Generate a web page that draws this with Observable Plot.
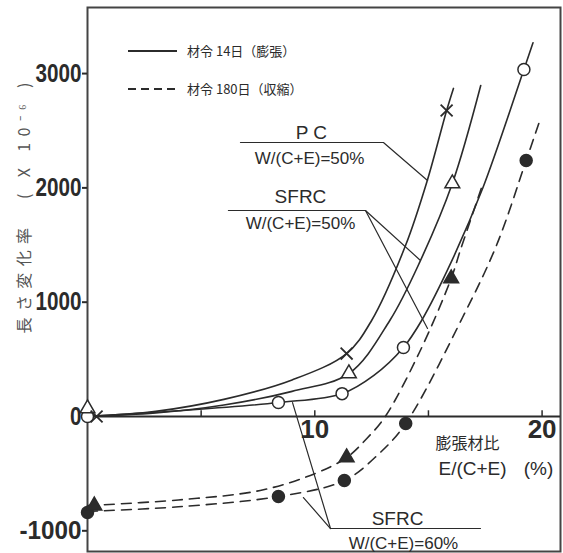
<!DOCTYPE html>
<html><head><meta charset="utf-8">
<script src="https://cdn.jsdelivr.net/npm/d3@7"></script>
<script src="https://cdn.jsdelivr.net/npm/@observablehq/plot@0.6"></script>
<style>body{margin:0;background:#fff}</style>
</head><body><div id="chart"></div>
<script>
// ---- axis ticks ----
const yTicks = [-1000, 0, 1000, 2000, 3000];
const xTicks = [5, 10, 15, 20];
const xTickLabels = [10, 20];

// ---- fitted curves ----
// 材令14日 (solid)
const pcCurveX = [0, 3, 6, 9, 11.4, 12.5, 14.0, 14.95, 15.8, 16.1];
const pcCurveY = [0, 45, 150, 320, 551, 840, 1500, 2065, 2677, 2870];
const sf50CurveX = [0, 3, 6, 9, 11.5, 13.3, 14.65, 16.05, 17.3];
const sf50CurveY = [0, 30, 100, 220, 376, 840, 1365, 2038, 2896];
const sf60CurveX = [0, 4, 8.4, 11.2, 12.6, 13.9, 14.7, 16.0, 17.4, 19.2, 19.6];
const sf60CurveY = [0, 50, 122, 200, 360, 604, 840, 1350, 2003, 3036, 3270];
// 材令180日 (dashed)
const sf50sCurveX = [0, 4, 7.6, 10, 11.4, 12.3, 13.1, 14.6, 16.0, 16.4, 17.4];
const sf50sCurveY = [-780, -730, -647, -500, -359, -190, 0, 560, 1207, 1452, 2040];
const sf60sCurveX = [0, 4, 8.4, 11.3, 12.8, 14.0, 16.5, 18.0, 19.3, 19.9];
const sf60sCurveY = [-830, -790, -700, -560, -330, -61, 866, 1500, 2240, 2590];

// ---- measured points ----
const pcX = [0.4, 11.4, 15.8], pcY = [0, 551, 2677];
const sf50X = [0, 11.5, 16.05], sf50Y = [70, 376, 2038];
const sf60X = [0, 8.4, 11.2, 13.9, 19.2], sf60Y = [0, 122, 200, 604, 3036];
const sf50sX = [0.3, 11.4, 16.0], sf50sY = [-780, -359, 1207];
const sf60sX = [0, 8.4, 11.3, 14.0, 19.3], sf60sY = [-840, -700, -560, -61, 2240];

// ---- annotation texts ----
const labelPC = ["P C", "W/(C+E)=50%"];
const labelS50 = ["SFRC", "W/(C+E)=50%"];
const labelS60 = ["SFRC", "W/(C+E)=60%"];
const legendTexts = ["材令 14日（膨張）", "材令 180日（収縮）"];
const yTitle = "長さ変化率　( X 10⁻⁶ )";
const xTitle = ["膨張材比", "E/(C+E)", "(%)"];

const pts = (xs, ys) => xs.map((x, i) => ({x, y: ys[i]}));
const ink = "#2b2b2b";
const latin = "Liberation Sans";
const cjk = "Noto Sans CJK JP";

// annotation geometry (data coordinates)
const leaders = [
  [{x: 6.73, y: 2397}, {x: 13.02, y: 2397}, {x: 14.96, y: 2065}],
  [{x: 6.2, y: 1802}, {x: 12.23, y: 1802}, {x: 14.65, y: 1365}],
  [{x: 12.23, y: 1802}, {x: 14.96, y: 770}],
  [{x: 17.29, y: -980}, {x: 10.69, y: -980}, {x: 9.02, y: 122}],
  [{x: 10.69, y: -980}, {x: 9.5, y: -709}]
];
const annText = [
  {x: 9.85, y: 2485, t: labelPC[0], s: 19},
  {x: 9.77, y: 2257, t: labelPC[1], s: 17},
  {x: 9.37, y: 1925, t: labelS50[0], s: 19},
  {x: 9.37, y: 1689, t: labelS50[1], s: 17},
  {x: 13.64, y: -895, t: labelS60[0], s: 19},
  {x: 13.9, y: -1111, t: labelS60[1], s: 17}
];

const chart = Plot.plot({
  width: 563, height: 553,
  marginLeft: 87, marginRight: 3, marginTop: 7, marginBottom: 2,
  x: {domain: [0, 20.81], axis: null},
  y: {domain: [-1181, 3578]},
  style: {fontFamily: latin, background: "#fff", color: ink},
  marks: [
    Plot.frame({stroke: "#444", strokeWidth: 2}),
    Plot.ruleY([0], {stroke: ink, strokeWidth: 2}),
    Plot.ruleX(xTicks, {x: d => d, y1: 0, y2: 50, stroke: ink, strokeWidth: 1.5}),
    Plot.text(xTickLabels, {x: d => d, y: 0, dy: 13, text: d => String(d), fontSize: 26, fontWeight: "bold", fill: ink, ariaLabel: "xtick-label"}),
    Plot.axisY(yTicks, {tickSize: 5, tickPadding: 1, fontSize: 25, fontWeight: "bold", strokeWidth: 2, label: null, tickFormat: d => String(d)}),
    // curves
    Plot.line(pts(pcCurveX, pcCurveY), {x: "x", y: "y", curve: "catmull-rom", stroke: ink, strokeWidth: 1.6}),
    Plot.line(pts(sf50CurveX, sf50CurveY), {x: "x", y: "y", curve: "catmull-rom", stroke: ink, strokeWidth: 1.6}),
    Plot.line(pts(sf60CurveX, sf60CurveY), {x: "x", y: "y", curve: "catmull-rom", stroke: ink, strokeWidth: 1.6}),
    Plot.line(pts(sf50sCurveX, sf50sCurveY), {x: "x", y: "y", curve: "catmull-rom", stroke: ink, strokeWidth: 1.6, strokeDasharray: "10,7"}),
    Plot.line(pts(sf60sCurveX, sf60sCurveY), {x: "x", y: "y", curve: "catmull-rom", stroke: ink, strokeWidth: 1.6, strokeDasharray: "10,7"}),
    // leaders
    ...leaders.map(l => Plot.line(l, {x: "x", y: "y", stroke: ink, strokeWidth: 1.2})),
    // markers
    Plot.dot(pts(sf60X, sf60Y), {x: "x", y: "y", r: 6, symbol: "circle", fill: "#fff", stroke: ink, strokeWidth: 1.5}),
    Plot.dot(pts(sf50X, sf50Y), {x: "x", y: "y", r: 5.5, symbol: "triangle", fill: "#fff", stroke: ink, strokeWidth: 1.5}),
    Plot.dot(pts(pcX, pcY), {x: "x", y: "y", r: 5.5, symbol: "times", stroke: ink, strokeWidth: 1.8}),
    Plot.dot(pts(sf60sX, sf60sY), {x: "x", y: "y", r: 6, symbol: "circle", fill: ink, stroke: ink}),
    Plot.dot(pts(sf50sX, sf50sY), {x: "x", y: "y", r: 5.5, symbol: "triangle", fill: ink, stroke: ink}),
    // annotation labels
    Plot.text(annText, {x: "x", y: "y", text: "t", fontSize: d => d.s, fill: ink}),
    // x title
    Plot.text([xTitle[0]], {frameAnchor: "top-left", dx: 380, dy: 430, text: d => d, fontSize: 16, fontFamily: cjk, fill: ink, textAnchor: "middle"}),
    Plot.text([xTitle[1]], {frameAnchor: "top-left", dx: 385, dy: 454, text: d => d, fontSize: 19, fill: ink, textAnchor: "middle", ariaLabel: "xtitle-e"}),
    Plot.text([xTitle[2]], {frameAnchor: "top-left", dx: 451, dy: 454, text: d => d, fontSize: 19, fill: ink, textAnchor: "middle"})
  ]
});

const svg = d3.select(chart);
// narrow the tick numbers like the original's condensed face
svg.selectAll('g[aria-label="y-axis tick label"] text').each(function() {
  const t = this.textContent;
  const digits = t.replace("-", "").length;
  this.setAttribute("textLength", digits * 11.5 + (t.startsWith("-") ? 16 : 0));
  this.setAttribute("lengthAdjust", "spacingAndGlyphs");
});
svg.selectAll('g[aria-label="xtick-label"] text').each(function() {
  this.setAttribute("textLength", this.textContent.length * 11.5);
  this.setAttribute("lengthAdjust", "spacingAndGlyphs");
});
svg.selectAll('g[aria-label="xtitle-e"] text').each(function() {
  this.setAttribute("textLength", 83);
  this.setAttribute("lengthAdjust", "spacing");
});

// y title
svg.append("text")
  .attr("transform", "translate(26,208) rotate(-90)")
  .attr("text-anchor", "middle").attr("dominant-baseline", "middle")
  .attr("font-family", cjk).attr("font-size", 16).attr("fill", "#555")
  .attr("textLength", 251).attr("lengthAdjust", "spacing")
  .text(yTitle);

// legend
const lg = svg.append("g").attr("stroke", ink).attr("stroke-width", 1.8);
lg.append("line").attr("x1", 128).attr("x2", 177).attr("y1", 51).attr("y2", 51);
lg.append("line").attr("x1", 128).attr("x2", 177).attr("y1", 89).attr("y2", 89).attr("stroke-dasharray", "8,5");
svg.append("g").attr("font-family", cjk).attr("font-size", 13).attr("fill", ink).attr("text-anchor", "start")
  .selectAll("text").data(legendTexts).join("text")
  .attr("x", 187).attr("y", (d, i) => 56 + i * 38).text(d => d);

document.getElementById("chart").append(chart);
</script>
</body></html>
